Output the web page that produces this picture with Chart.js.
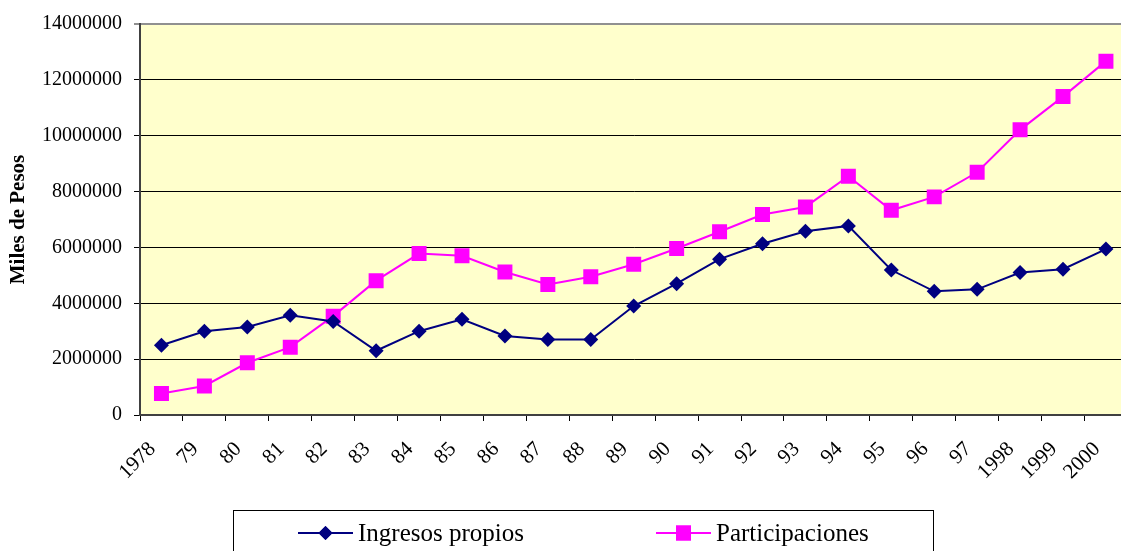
<!DOCTYPE html>
<html>
<head>
<meta charset="utf-8">
<script src="https://cdn.jsdelivr.net/npm/chart.js@4/dist/chart.umd.min.js"></script>
<style>
  html, body { margin: 0; padding: 0; background: #fff; overflow: hidden; }
  #wrap { position: absolute; left: 0; top: 0; width: 1140px; height: 551px; }
</style>
</head>
<body>
<div id="wrap"><canvas id="ingresos_chart" width="1140" height="551"></canvas></div>
<script>
const years = ['1978', '79', '80', '81', '82', '83', '84', '85', '86', '87', '88', '89',
               '90', '91', '92', '93', '94', '95', '96', '97', '1998', '1999', '2000'];

const ingresosPropios = [2500000, 3000000, 3150000, 3570000, 3350000, 2300000, 3000000, 3430000,
                         2830000, 2700000, 2700000, 3900000, 4700000, 5580000, 6130000, 6580000,
                         6770000, 5190000, 4430000, 4500000, 5100000, 5220000, 5940000];

const participaciones = [770000, 1040000, 1870000, 2430000, 3540000, 4810000, 5780000, 5700000,
                         5120000, 4670000, 4950000, 5400000, 5960000, 6560000, 7180000, 7450000,
                         8550000, 7330000, 7810000, 8690000, 10210000, 11400000, 12670000];

const yMax = 14000000;
const yStep = 2000000;

const serif = '"Liberation Serif", "Times New Roman", serif';

// yellow plot background
const plotBackground = {
    id: 'plotBackground',
    beforeDraw(chart) {
        const a = chart.chartArea;
        const c = chart.ctx;
        c.save();
        c.fillStyle = '#FFFFCC';
        c.fillRect(a.left, a.top, a.right - a.left, a.bottom - a.top);
        c.restore();
    }
};

// boxed legend under the axis: line sample + marker + label
const boxedLegend = {
    id: 'boxedLegend',
    afterDraw(chart) {
        const c = chart.ctx;
        c.save();
        c.strokeStyle = '#000';
        c.lineWidth = 1;
        c.strokeRect(233.5, 510.5, 700, 60);

        const items = [
            { x: 298, ds: chart.data.datasets[0], style: 'rectRot', r: 7 },
            { x: 656, ds: chart.data.datasets[1], style: 'rect', r: 10.6 }
        ];
        items.forEach(it => {
            const y = 533;
            c.strokeStyle = it.ds.borderColor;
            c.lineWidth = 2;
            c.beginPath();
            c.moveTo(it.x, y);
            c.lineTo(it.x + 55, y);
            c.stroke();
            c.fillStyle = it.ds.pointBackgroundColor;
            Chart.helpers.drawPoint(c, { pointStyle: it.style, radius: it.r, borderWidth: 0 }, it.x + 27.5, y);
            c.fill();
            c.fillStyle = '#000';
            c.font = '25px ' + serif;
            c.textBaseline = 'middle';
            c.fillText(it.ds.label, it.x + 60, y + 1);
        });
        c.restore();
    }
};

const ctx = document.getElementById('ingresos_chart').getContext('2d');

new Chart(ctx, {
    type: 'line',
    data: {
        labels: years,
        datasets: [
            {
                label: 'Ingresos propios',
                data: ingresosPropios,
                borderColor: '#000080',
                backgroundColor: '#000080',
                pointBackgroundColor: '#000080',
                pointBorderColor: '#000080',
                borderWidth: 2,
                pointStyle: 'rectRot',
                pointRadius: 7.5,
                pointBorderWidth: 0,
                tension: 0,
                fill: false
            },
            {
                label: 'Participaciones',
                data: participaciones,
                borderColor: '#FF00FF',
                backgroundColor: '#FF00FF',
                pointBackgroundColor: '#FF00FF',
                pointBorderColor: '#FF00FF',
                borderWidth: 2,
                pointStyle: 'rect',
                pointRadius: 10.6,
                pointBorderWidth: 0,
                tension: 0,
                fill: false
            }
        ]
    },
    options: {
        responsive: false,
        animation: false,
        layout: { padding: { top: 20, right: 11, left: 0, bottom: 0 } },
        plugins: {
            legend: { display: false },
            tooltip: { enabled: false }
        },
        scales: {
            x: {
                offset: true,
                grid: {
                    offset: true,
                    drawOnChartArea: false,
                    drawTicks: true,
                    tickLength: 6,
                    color: '#000'
                },
                border: { color: '#404040', width: 2 },
                ticks: {
                    autoSkip: false,
                    maxRotation: 45,
                    minRotation: 45,
                    padding: 16,
                    labelOffset: -9,
                    color: '#000',
                    font: { family: serif, size: 21 }
                },
                afterFit(scale) { scale.height = 136; }
            },
            y: {
                min: 0,
                max: yMax,
                ticks: {
                    stepSize: yStep,
                    padding: 12,
                    color: '#000',
                    font: { family: serif, size: 20 },
                    callback: v => String(v)
                },
                grid: {
                    color: c => (c.tick && c.tick.value === yMax ? '#909090' : '#000'),
                    lineWidth: c => (c.tick && c.tick.value === yMax ? 2 : 1),
                    tickLength: 6
                },
                border: { color: '#404040', width: 2 },
                title: {
                    display: true,
                    text: 'Miles de Pesos',
                    color: '#000',
                    font: { family: serif, size: 21, weight: 'bold' },
                    padding: { top: 6, bottom: 0 }
                },
                afterFit(scale) { scale.width = 140; }
            }
        }
    },
    plugins: [plotBackground, boxedLegend]
});
</script>
</body>
</html>
